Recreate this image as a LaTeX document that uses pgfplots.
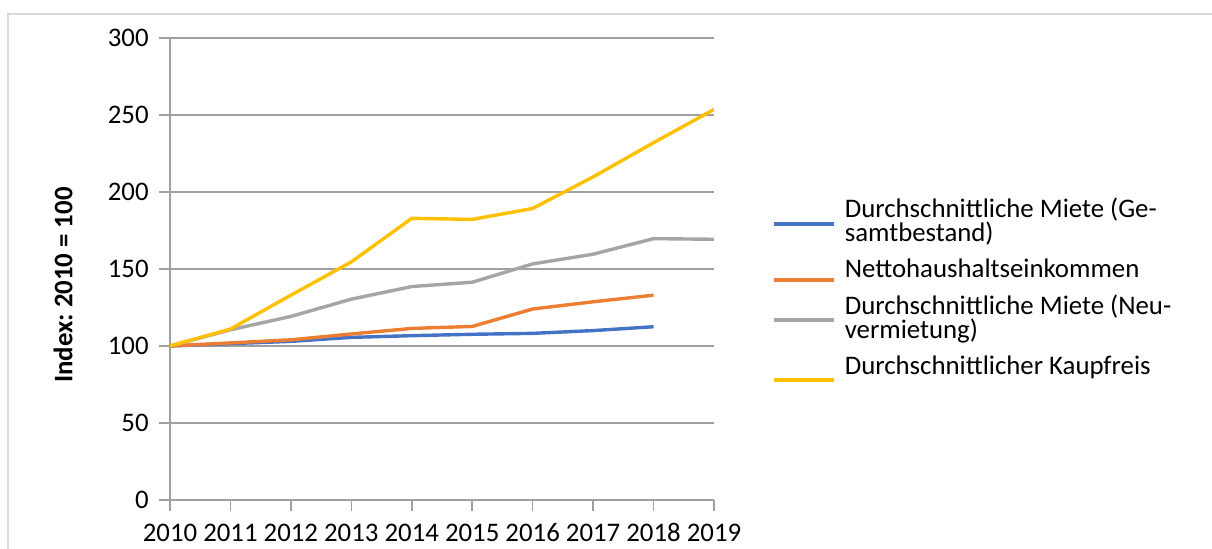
\documentclass[border=0pt]{standalone}
\usepackage{fontspec}
\setmainfont{Carlito}
\usepackage{pgfplots}
\pgfplotsset{compat=1.18}
\frenchspacing

\definecolor{xblue}{HTML}{4472C4}
\definecolor{xorange}{HTML}{ED7D31}
\definecolor{xgray}{HTML}{A5A5A5}
\definecolor{xyellow}{HTML}{FFC000}
\definecolor{gridc}{RGB}{160,160,160}
\definecolor{framec}{RGB}{217,217,217}

% legend line at a given height, legend lines with fixed pitch
\pgfplotsset{lgimg/.style={legend image code/.code={\draw[##1, line width=1.9pt] (0pt,#1) -- (30pt,#1);}}}
\newcommand{\lgs}{\rule[-2.6pt]{0pt}{9pt}}
\newcommand{\lgone}[1]{\lgs#1}
\newcommand{\lgtwo}[2]{\vbox{\baselineskip=11.65pt\lineskiplimit=-\maxdimen
    \hbox{\lgs#1}\hbox{\lgs#2}}}

\begin{document}
\begin{tikzpicture}
\path[use as bounding box] (0,0) rectangle (606pt,274.5pt);
\draw[framec, line width=0.75pt] (4pt,-1pt) -- (4pt,267.5pt) -- (607pt,267.5pt);
\begin{axis}[
    at={(85pt,24.5pt)}, anchor=south west,
    scale only axis,
    width=272pt, height=231pt,
    xmin=2010, xmax=2019,
    ymin=0, ymax=300,
    xtick={2010,2011,...,2019},
    ytick={0,50,...,300},
    /pgf/number format/1000 sep={},
    /pgf/number format/assume math mode=true,
    ticklabel style={font=\fontsize{13.4pt}{16pt}\selectfont},
    xticklabel style={anchor=base, inner sep=0pt, yshift=-15.5pt},
    yticklabel style={anchor=east, inner sep=0pt, xshift=-5pt},
    axis lines*=left,
    axis line style={gridc, line width=0.75pt, -},
    tick align=outside,
    major tick length=5.5pt,
    tick style={gridc, line width=0.75pt},
    ymajorgrids,
    grid style={gridc, line width=0.75pt},
    ylabel={\textbf{Index: 2010 = 100}},
    every axis y label/.style={at={(rel axis cs:-0.1967,0.4654)}, rotate=90, anchor=center,
        font=\fontsize{13.4pt}{16pt}\selectfont},
    legend style={at={(rel axis cs:1.1066,0.662)}, anchor=north west, draw=none,
        inner sep=0pt, outer sep=0pt, row sep=3.4pt,
        font=\fontsize{13.4pt}{11.65pt}\selectfont,
        cells={anchor=base west, inner sep=0pt},
        /tikz/every odd column/.append style={column sep=2.5pt}},
    every axis plot/.append style={line width=1.7pt},
]
\addplot[xblue, lgimg=8.6pt] coordinates {
    (2010,100) (2011,101.5) (2012,103) (2013,105.6) (2014,106.7)
    (2015,107.6) (2016,108.2) (2017,110) (2018,112.5)
};
\addlegendentry{\lgtwo{Durchschnittliche Miete (Ge-}{samtbestand)}}
\addplot[xorange, lgimg=-1.2pt] coordinates {
    (2010,100) (2011,102) (2012,104) (2013,107.8) (2014,111.4)
    (2015,112.7) (2016,124) (2017,128.7) (2018,133)
};
\addlegendentry{\lgone{Nettohaushaltseinkommen}}
\addplot[xgray, lgimg=9pt] coordinates {
    (2010,100) (2011,110.5) (2012,119.2) (2013,130.4) (2014,138.6)
    (2015,141.4) (2016,153.3) (2017,159.6) (2018,169.7) (2019,169.3)
};
\addlegendentry{\lgtwo{Durchschnittliche Miete (Neu-}{vermietung)}}
\addplot[xyellow, lgimg=-2.8pt] coordinates {
    (2010,100) (2011,111) (2012,133) (2013,154.6) (2014,182.9)
    (2015,182.2) (2016,189.3) (2017,209.8) (2018,232) (2019,253.6)
};
\addlegendentry{\lgone{Durchschnittlicher Kaupfreis}}
\end{axis}
\end{tikzpicture}
\end{document}
